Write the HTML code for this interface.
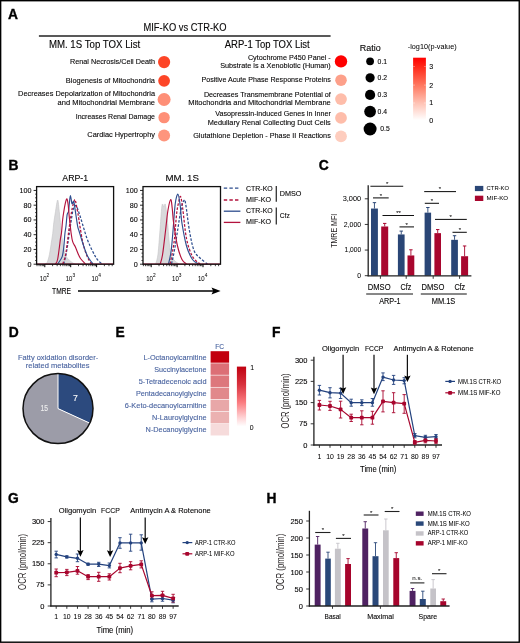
<!DOCTYPE html>
<html><head><meta charset="utf-8"><style>
html,body{margin:0;padding:0;background:#fff;}
body{width:520px;height:643px;overflow:hidden;}
svg{display:block;font-family:"Liberation Sans", sans-serif;will-change:transform;}
</style></head><body>
<svg width="520" height="643" viewBox="0 0 520 643">
<defs>
<linearGradient id="gA" x1="0" y1="0" x2="0" y2="1"><stop offset="0" stop-color="#ff0000"/><stop offset="0.15" stop-color="#ff2a1a"/><stop offset="0.45" stop-color="#ff7a62"/><stop offset="0.73" stop-color="#ffc3b5"/><stop offset="1" stop-color="#ffffff"/></linearGradient>
<linearGradient id="gE" x1="0" y1="0" x2="0" y2="1"><stop offset="0" stop-color="#c00010"/><stop offset="0.3" stop-color="#d8323e"/><stop offset="0.6" stop-color="#fb7c80"/><stop offset="0.85" stop-color="#ffd2d4"/><stop offset="1" stop-color="#ffffff"/></linearGradient>
</defs>
<rect x="0" y="0" width="520" height="643" fill="#fff"/>
<rect x="0.65" y="0.7" width="518.6" height="641.5" fill="none" stroke="#000" stroke-width="1.4"/>
<text x="8.00" y="18.80" font-size="13.8" fill="#000" font-weight="bold" stroke="#000" stroke-width="0.35">A</text>
<text x="143.50" y="31.10" font-size="10.0" stroke="#231f20" stroke-width="0.12" textLength="83.00" lengthAdjust="spacingAndGlyphs" >MIF-KO vs CTR-KO</text>
<line x1="38.90" y1="36.00" x2="330.60" y2="36.00" stroke="#222" stroke-width="1.5" />
<text x="48.90" y="47.80" font-size="10.2" stroke="#231f20" stroke-width="0.12" textLength="91.30" lengthAdjust="spacingAndGlyphs" >MM. 1S Top TOX List</text>
<text x="224.70" y="47.80" font-size="10.2" stroke="#231f20" stroke-width="0.12" textLength="85.00" lengthAdjust="spacingAndGlyphs" >ARP-1 Top TOX List</text>
<text x="70.00" y="64.40" font-size="7.7" stroke="#231f20" stroke-width="0.12" textLength="85.00" lengthAdjust="spacingAndGlyphs" >Renal Necrosis/Cell Death</text>
<text x="65.80" y="82.80" font-size="7.7" stroke="#231f20" stroke-width="0.12" textLength="89.20" lengthAdjust="spacingAndGlyphs" >Biogenesis of Mitochondria</text>
<text x="18.10" y="96.40" font-size="7.7" stroke="#231f20" stroke-width="0.12" textLength="136.90" lengthAdjust="spacingAndGlyphs" >Decreases Depolarization of Mitochondria</text>
<text x="57.60" y="104.80" font-size="7.7" stroke="#231f20" stroke-width="0.12" textLength="97.40" lengthAdjust="spacingAndGlyphs" >and Mitochondrial Membrane</text>
<text x="75.70" y="119.30" font-size="7.7" stroke="#231f20" stroke-width="0.12" textLength="79.30" lengthAdjust="spacingAndGlyphs" >Increases Renal Damage</text>
<text x="87.30" y="136.60" font-size="7.7" stroke="#231f20" stroke-width="0.12" textLength="67.70" lengthAdjust="spacingAndGlyphs" >Cardiac Hypertrophy</text>
<circle cx="164.10" cy="62.10" r="6.10" fill="#fd4527" />
<circle cx="164.10" cy="80.80" r="5.90" fill="#fd4527" />
<circle cx="164.10" cy="99.50" r="6.50" fill="#fe8f77" />
<circle cx="164.10" cy="117.60" r="5.70" fill="#fe8f77" />
<circle cx="164.10" cy="135.60" r="6.00" fill="#fe957d" />
<text x="247.90" y="59.90" font-size="7.7" stroke="#231f20" stroke-width="0.12" textLength="82.90" lengthAdjust="spacingAndGlyphs" >Cytochrome P450 Panel -</text>
<text x="220.20" y="68.10" font-size="7.7" stroke="#231f20" stroke-width="0.12" textLength="110.60" lengthAdjust="spacingAndGlyphs" >Substrate is a Xenobiotic (Human)</text>
<text x="201.40" y="82.40" font-size="7.7" stroke="#231f20" stroke-width="0.12" textLength="129.40" lengthAdjust="spacingAndGlyphs" >Positive Acute Phase Response Proteins</text>
<text x="203.90" y="96.80" font-size="7.7" stroke="#231f20" stroke-width="0.12" textLength="126.90" lengthAdjust="spacingAndGlyphs" >Decreases Transmembrane Potential of</text>
<text x="188.20" y="105.30" font-size="7.7" stroke="#231f20" stroke-width="0.12" textLength="142.60" lengthAdjust="spacingAndGlyphs" >Mitochondria and Mitochondrial Membrane</text>
<text x="215.30" y="116.10" font-size="7.7" stroke="#231f20" stroke-width="0.12" textLength="115.50" lengthAdjust="spacingAndGlyphs" >Vasopressin-induced Genes in Inner</text>
<text x="207.70" y="125.10" font-size="7.7" stroke="#231f20" stroke-width="0.12" textLength="123.10" lengthAdjust="spacingAndGlyphs" >Medullary Renal Collecting Duct Cells</text>
<text x="193.20" y="137.90" font-size="7.7" stroke="#231f20" stroke-width="0.12" textLength="137.60" lengthAdjust="spacingAndGlyphs" >Glutathione Depletion - Phase II Reactions</text>
<circle cx="341.00" cy="61.40" r="6.20" fill="#fe0000" />
<circle cx="341.00" cy="80.20" r="5.80" fill="#fda08a" />
<circle cx="341.00" cy="99.10" r="5.90" fill="#febdaa" />
<circle cx="341.00" cy="117.90" r="5.90" fill="#febdaa" />
<circle cx="341.00" cy="136.30" r="5.90" fill="#fecdbe" />
<text x="359.70" y="51.30" font-size="9.0" stroke="#231f20" stroke-width="0.12" textLength="21.00" lengthAdjust="spacingAndGlyphs" >Ratio</text>
<circle cx="370.10" cy="61.30" r="3.90" fill="#000" />
<text x="377.60" y="63.70" font-size="7.0" stroke="#231f20" stroke-width="0.12" textLength="9.50" lengthAdjust="spacingAndGlyphs" >0.1</text>
<circle cx="370.10" cy="77.80" r="4.60" fill="#000" />
<text x="377.60" y="80.20" font-size="7.0" stroke="#231f20" stroke-width="0.12" textLength="9.50" lengthAdjust="spacingAndGlyphs" >0.2</text>
<circle cx="370.10" cy="94.90" r="5.10" fill="#000" />
<text x="377.60" y="97.30" font-size="7.0" stroke="#231f20" stroke-width="0.12" textLength="9.50" lengthAdjust="spacingAndGlyphs" >0.3</text>
<circle cx="370.10" cy="111.60" r="5.90" fill="#000" />
<text x="377.60" y="114.00" font-size="7.0" stroke="#231f20" stroke-width="0.12" textLength="9.50" lengthAdjust="spacingAndGlyphs" >0.4</text>
<circle cx="370.10" cy="129.00" r="6.50" fill="#000" />
<text x="380.20" y="131.40" font-size="7.0" stroke="#231f20" stroke-width="0.12" textLength="9.50" lengthAdjust="spacingAndGlyphs" >0.5</text>
<text x="407.80" y="49.30" font-size="6.9" stroke="#231f20" stroke-width="0.04" textLength="48.80" lengthAdjust="spacingAndGlyphs" >-log10(p-value)</text>
<rect x="413.10" y="57.70" width="12.80" height="62.50" fill="url(#gA)" />
<text x="429.30" y="68.80" font-size="7.0" stroke="#231f20" stroke-width="0.12" >3</text>
<line x1="413.10" y1="66.40" x2="415.00" y2="66.40" stroke="#fff" stroke-width="0.6" opacity="0.6"/>
<line x1="424.00" y1="66.40" x2="425.90" y2="66.40" stroke="#fff" stroke-width="0.6" opacity="0.6"/>
<text x="429.30" y="87.50" font-size="7.0" stroke="#231f20" stroke-width="0.12" >2</text>
<line x1="413.10" y1="85.10" x2="415.00" y2="85.10" stroke="#fff" stroke-width="0.6" opacity="0.6"/>
<line x1="424.00" y1="85.10" x2="425.90" y2="85.10" stroke="#fff" stroke-width="0.6" opacity="0.6"/>
<text x="429.30" y="105.40" font-size="7.0" stroke="#231f20" stroke-width="0.12" >1</text>
<line x1="413.10" y1="103.00" x2="415.00" y2="103.00" stroke="#fff" stroke-width="0.6" opacity="0.6"/>
<line x1="424.00" y1="103.00" x2="425.90" y2="103.00" stroke="#fff" stroke-width="0.6" opacity="0.6"/>
<text x="429.30" y="123.30" font-size="7.0" stroke="#231f20" stroke-width="0.12" >0</text>
<line x1="413.10" y1="120.90" x2="415.00" y2="120.90" stroke="#fff" stroke-width="0.6" opacity="0.6"/>
<line x1="424.00" y1="120.90" x2="425.90" y2="120.90" stroke="#fff" stroke-width="0.6" opacity="0.6"/>
<text x="8.60" y="169.70" font-size="13.8" fill="#000" font-weight="bold" stroke="#000" stroke-width="0.35">B</text>
<text x="62.30" y="181.20" font-size="9.6" stroke="#231f20" stroke-width="0.12" textLength="25.90" lengthAdjust="spacingAndGlyphs" >ARP-1</text>
<text x="165.50" y="181.30" font-size="9.6" stroke="#231f20" stroke-width="0.12" textLength="33.40" lengthAdjust="spacingAndGlyphs" >MM. 1S</text>
<path d="M45.0,264.0 C45.4,263.7 46.5,263.9 47.2,262.4 C47.9,260.8 48.8,257.6 49.4,254.7 C50.0,251.8 50.5,248.2 51.0,244.7 C51.5,241.2 52.2,237.4 52.7,233.7 C53.2,230.0 53.3,226.3 53.8,222.6 C54.3,218.9 54.9,215.4 55.5,211.6 C56.1,207.8 57.1,200.0 57.7,200.0 C58.3,200.0 58.8,207.8 59.3,211.6 C59.8,215.4 60.0,218.9 60.4,222.6 C60.8,226.3 60.9,229.5 61.5,233.7 C62.1,237.9 63.0,244.1 63.8,248.0 C64.6,251.9 65.1,254.5 66.5,256.9 C67.9,259.3 70.5,261.2 72.0,262.4 C73.5,263.6 74.8,263.7 75.4,264.0 Z" stroke="#c4c4c6" stroke-width="0.6" fill="#d9d9db" />
<path d="M63.7,264.0 C64.2,262.0 65.6,256.8 66.5,252.0 C67.4,247.2 68.0,242.2 69.0,235.5 C70.0,228.8 71.8,216.2 72.7,211.5 C73.6,206.8 73.9,208.0 74.5,207.0 C75.1,206.0 75.6,205.0 76.2,205.5 C76.8,206.0 77.2,207.8 78.0,210.0 C78.8,212.2 79.5,214.2 81.0,219.0 C82.5,223.8 85.0,233.0 87.0,238.5 C89.0,244.0 91.3,248.6 93.0,252.0 C94.7,255.4 95.5,257.0 97.0,259.0 C98.5,261.0 101.2,263.2 102.0,264.0" stroke="#2d4d8e" stroke-width="1.25" fill="none" stroke-dasharray="2.6,1.6" stroke-linejoin="round"/>
<path d="M62.7,264.0 C63.2,262.6 64.7,259.0 65.4,255.8 C66.1,252.6 66.5,248.8 67.1,244.7 C67.6,240.6 68.2,235.7 68.7,231.5 C69.2,227.3 69.9,223.0 70.4,219.3 C71.0,215.6 71.3,212.5 72.0,209.4 C72.7,206.3 73.7,201.8 74.3,200.5 C74.9,199.2 75.0,199.2 75.6,201.5 C76.2,203.8 76.8,207.4 78.0,214.0 C79.2,220.6 81.0,234.0 82.5,241.0 C84.0,248.0 85.5,252.2 87.0,256.0 C88.5,259.8 90.8,262.7 91.5,264.0" stroke="#b3123d" stroke-width="1.25" fill="none" stroke-dasharray="2.6,1.6" stroke-linejoin="round"/>
<path d="M57.7,264.0 C58.4,262.8 61.1,259.7 62.1,256.9 C63.1,254.1 63.3,250.9 63.8,247.0 C64.3,243.1 64.5,237.2 64.9,233.7 C65.3,230.2 65.6,229.1 66.0,226.0 C66.4,222.9 66.7,217.3 67.1,214.9 C67.5,212.5 68.1,213.4 68.5,211.6 C68.9,209.8 69.0,206.5 69.3,203.8 C69.6,201.1 70.0,195.6 70.4,195.6 C70.9,195.6 71.5,202.8 72.0,203.8 C72.5,204.8 73.1,200.3 73.7,201.6 C74.3,202.9 74.8,207.5 75.4,211.6 C76.1,215.7 77.0,222.7 77.6,226.0 C78.2,229.3 78.3,228.5 79.2,231.5 C80.1,234.5 81.7,240.1 83.0,244.0 C84.3,247.9 85.8,252.3 87.0,255.0 C88.2,257.7 89.0,258.5 90.0,260.0 C91.0,261.5 92.5,263.3 93.0,264.0" stroke="#2d4d8e" stroke-width="1.15" fill="none" stroke-linejoin="round"/>
<path d="M55.5,264.0 C55.9,263.2 56.9,263.1 57.7,259.0 C58.5,254.9 59.8,243.6 60.4,239.2 C61.0,234.8 61.1,235.9 61.5,232.6 C61.9,229.3 62.3,222.8 62.7,219.3 C63.1,215.8 63.4,214.2 63.8,211.6 C64.2,209.0 64.7,205.9 65.2,203.8 C65.7,201.7 66.4,198.7 66.9,198.9 C67.4,199.1 67.8,202.0 68.2,205.0 C68.6,208.0 68.8,212.7 69.3,217.1 C69.8,221.5 70.4,227.4 70.9,231.5 C71.5,235.6 71.8,238.8 72.6,241.4 C73.3,244.0 74.6,245.2 75.4,247.0 C76.2,248.8 76.8,250.6 77.6,252.5 C78.4,254.4 79.2,256.6 80.5,258.5 C81.8,260.4 84.7,263.1 85.5,264.0" stroke="#b3123d" stroke-width="1.15" fill="none" stroke-linejoin="round"/>
<line x1="36.60" y1="264.00" x2="113.60" y2="264.00" stroke="#b3123d" stroke-width="1.2" />
<rect x="36.60" y="186.60" width="77.00" height="77.60" fill="none" stroke="#111" stroke-width="1.3"/>
<line x1="33.60" y1="264.20" x2="36.60" y2="264.20" stroke="#111" stroke-width="0.9" />
<text x="31.40" y="266.70" font-size="7.2" text-anchor="end" stroke="#231f20" stroke-width="0.12" >0</text>
<line x1="35.00" y1="260.51" x2="36.60" y2="260.51" stroke="#111" stroke-width="0.7" />
<line x1="35.00" y1="256.82" x2="36.60" y2="256.82" stroke="#111" stroke-width="0.7" />
<line x1="35.00" y1="253.14" x2="36.60" y2="253.14" stroke="#111" stroke-width="0.7" />
<line x1="33.60" y1="249.45" x2="36.60" y2="249.45" stroke="#111" stroke-width="0.9" />
<text x="31.40" y="251.95" font-size="7.2" text-anchor="end" stroke="#231f20" stroke-width="0.12" >20</text>
<line x1="35.00" y1="245.76" x2="36.60" y2="245.76" stroke="#111" stroke-width="0.7" />
<line x1="35.00" y1="242.07" x2="36.60" y2="242.07" stroke="#111" stroke-width="0.7" />
<line x1="35.00" y1="238.39" x2="36.60" y2="238.39" stroke="#111" stroke-width="0.7" />
<line x1="33.60" y1="234.70" x2="36.60" y2="234.70" stroke="#111" stroke-width="0.9" />
<text x="31.40" y="237.20" font-size="7.2" text-anchor="end" stroke="#231f20" stroke-width="0.12" >40</text>
<line x1="35.00" y1="231.01" x2="36.60" y2="231.01" stroke="#111" stroke-width="0.7" />
<line x1="35.00" y1="227.32" x2="36.60" y2="227.32" stroke="#111" stroke-width="0.7" />
<line x1="35.00" y1="223.64" x2="36.60" y2="223.64" stroke="#111" stroke-width="0.7" />
<line x1="33.60" y1="219.95" x2="36.60" y2="219.95" stroke="#111" stroke-width="0.9" />
<text x="31.40" y="222.45" font-size="7.2" text-anchor="end" stroke="#231f20" stroke-width="0.12" >60</text>
<line x1="35.00" y1="216.26" x2="36.60" y2="216.26" stroke="#111" stroke-width="0.7" />
<line x1="35.00" y1="212.57" x2="36.60" y2="212.57" stroke="#111" stroke-width="0.7" />
<line x1="35.00" y1="208.89" x2="36.60" y2="208.89" stroke="#111" stroke-width="0.7" />
<line x1="33.60" y1="205.20" x2="36.60" y2="205.20" stroke="#111" stroke-width="0.9" />
<text x="31.40" y="207.70" font-size="7.2" text-anchor="end" stroke="#231f20" stroke-width="0.12" >80</text>
<line x1="35.00" y1="201.51" x2="36.60" y2="201.51" stroke="#111" stroke-width="0.7" />
<line x1="35.00" y1="197.82" x2="36.60" y2="197.82" stroke="#111" stroke-width="0.7" />
<line x1="35.00" y1="194.14" x2="36.60" y2="194.14" stroke="#111" stroke-width="0.7" />
<line x1="33.60" y1="190.45" x2="36.60" y2="190.45" stroke="#111" stroke-width="0.9" />
<text x="31.40" y="192.95" font-size="7.2" text-anchor="end" stroke="#231f20" stroke-width="0.12" >100</text>
<line x1="37.00" y1="264.20" x2="37.00" y2="266.20" stroke="#111" stroke-width="0.8" />
<line x1="39.05" y1="264.20" x2="39.05" y2="266.20" stroke="#111" stroke-width="0.8" />
<line x1="40.79" y1="264.20" x2="40.79" y2="266.20" stroke="#111" stroke-width="0.8" />
<line x1="42.29" y1="264.20" x2="42.29" y2="266.20" stroke="#111" stroke-width="0.8" />
<line x1="43.61" y1="264.20" x2="43.61" y2="266.20" stroke="#111" stroke-width="0.8" />
<line x1="44.80" y1="264.20" x2="44.80" y2="267.20" stroke="#000" stroke-width="1.0" />
<line x1="52.60" y1="264.20" x2="52.60" y2="266.20" stroke="#111" stroke-width="0.8" />
<line x1="57.16" y1="264.20" x2="57.16" y2="266.20" stroke="#111" stroke-width="0.8" />
<line x1="60.39" y1="264.20" x2="60.39" y2="266.20" stroke="#111" stroke-width="0.8" />
<line x1="62.90" y1="264.20" x2="62.90" y2="266.20" stroke="#111" stroke-width="0.8" />
<line x1="64.95" y1="264.20" x2="64.95" y2="266.20" stroke="#111" stroke-width="0.8" />
<line x1="66.69" y1="264.20" x2="66.69" y2="266.20" stroke="#111" stroke-width="0.8" />
<line x1="68.19" y1="264.20" x2="68.19" y2="266.20" stroke="#111" stroke-width="0.8" />
<line x1="69.51" y1="264.20" x2="69.51" y2="266.20" stroke="#111" stroke-width="0.8" />
<line x1="70.70" y1="264.20" x2="70.70" y2="267.20" stroke="#000" stroke-width="1.0" />
<line x1="78.50" y1="264.20" x2="78.50" y2="266.20" stroke="#111" stroke-width="0.8" />
<line x1="83.06" y1="264.20" x2="83.06" y2="266.20" stroke="#111" stroke-width="0.8" />
<line x1="86.29" y1="264.20" x2="86.29" y2="266.20" stroke="#111" stroke-width="0.8" />
<line x1="88.80" y1="264.20" x2="88.80" y2="266.20" stroke="#111" stroke-width="0.8" />
<line x1="90.85" y1="264.20" x2="90.85" y2="266.20" stroke="#111" stroke-width="0.8" />
<line x1="92.59" y1="264.20" x2="92.59" y2="266.20" stroke="#111" stroke-width="0.8" />
<line x1="94.09" y1="264.20" x2="94.09" y2="266.20" stroke="#111" stroke-width="0.8" />
<line x1="95.41" y1="264.20" x2="95.41" y2="266.20" stroke="#111" stroke-width="0.8" />
<line x1="96.60" y1="264.20" x2="96.60" y2="267.20" stroke="#000" stroke-width="1.0" />
<line x1="104.40" y1="264.20" x2="104.40" y2="266.20" stroke="#111" stroke-width="0.8" />
<line x1="108.96" y1="264.20" x2="108.96" y2="266.20" stroke="#111" stroke-width="0.8" />
<line x1="112.19" y1="264.20" x2="112.19" y2="266.20" stroke="#111" stroke-width="0.8" />
<text x="39.80" y="280.50" font-size="6.9" stroke="#231f20" stroke-width="0.04" textLength="6.70" lengthAdjust="spacingAndGlyphs" >10</text>
<text x="46.50" y="276.80" font-size="4.8" stroke="#231f20" stroke-width="0.04" >2</text>
<text x="65.70" y="280.50" font-size="6.9" stroke="#231f20" stroke-width="0.04" textLength="6.70" lengthAdjust="spacingAndGlyphs" >10</text>
<text x="72.40" y="276.80" font-size="4.8" stroke="#231f20" stroke-width="0.04" >3</text>
<text x="91.60" y="280.50" font-size="6.9" stroke="#231f20" stroke-width="0.04" textLength="6.70" lengthAdjust="spacingAndGlyphs" >10</text>
<text x="98.30" y="276.80" font-size="4.8" stroke="#231f20" stroke-width="0.04" >4</text>
<path d="M155.7,264.0 C156.1,262.3 157.3,259.7 158.0,254.0 C158.7,248.3 159.4,237.3 160.0,230.0 C160.6,222.7 161.1,214.3 161.5,210.0 C161.9,205.7 162.1,204.5 162.5,204.0 C162.9,203.5 163.4,207.0 163.8,207.0 C164.2,207.0 164.8,203.2 165.2,204.0 C165.6,204.8 166.1,208.8 166.5,212.0 C166.9,215.2 167.3,218.8 167.7,223.5 C168.1,228.2 168.5,235.0 169.0,240.0 C169.5,245.0 169.9,250.2 170.7,253.5 C171.5,256.8 172.6,258.2 174.0,260.0 C175.4,261.8 178.2,263.3 179.0,264.0 Z" stroke="#c4c4c6" stroke-width="0.6" fill="#d9d9db" />
<path d="M171.5,264.0 C172.0,261.7 173.5,255.5 174.5,250.0 C175.5,244.5 176.4,237.9 177.5,231.0 C178.6,224.1 180.1,213.6 181.2,208.5 C182.3,203.4 183.4,200.9 184.2,200.2 C184.9,199.4 184.8,198.9 185.7,204.0 C186.6,209.1 188.1,223.2 189.5,231.0 C190.9,238.8 192.2,246.0 194.0,250.5 C195.8,255.0 197.8,255.8 200.0,258.0 C202.2,260.2 206.2,263.0 207.5,264.0" stroke="#2d4d8e" stroke-width="1.25" fill="none" stroke-dasharray="2.6,1.6" stroke-linejoin="round"/>
<path d="M170.0,264.0 C170.4,262.0 171.8,256.2 172.5,252.0 C173.2,247.8 173.8,245.0 174.5,238.5 C175.2,232.0 176.0,218.9 176.7,213.0 C177.4,207.1 177.9,205.8 178.5,203.0 C179.1,200.2 179.8,195.6 180.5,196.5 C181.2,197.4 181.7,201.5 182.7,208.5 C183.7,215.5 184.9,230.5 186.5,238.5 C188.1,246.5 190.2,252.2 192.5,256.5 C194.8,260.8 198.8,262.8 200.0,264.0" stroke="#b3123d" stroke-width="1.25" fill="none" stroke-dasharray="2.6,1.6" stroke-linejoin="round"/>
<path d="M168.5,264.0 C168.9,262.0 170.2,257.5 171.0,252.0 C171.8,246.5 172.3,239.0 173.0,231.0 C173.7,223.0 174.4,210.1 175.2,204.0 C176.0,197.9 177.2,193.9 178.0,194.2 C178.8,194.4 179.5,200.6 180.2,205.5 C180.9,210.4 180.9,216.8 182.0,223.5 C183.1,230.2 184.8,240.0 186.5,246.0 C188.2,252.0 190.5,256.5 192.5,259.5 C194.5,262.5 197.5,263.2 198.5,264.0" stroke="#2d4d8e" stroke-width="1.15" fill="none" stroke-linejoin="round"/>
<path d="M160.2,264.0 C160.6,262.5 161.6,260.5 162.5,255.0 C163.4,249.5 164.6,238.5 165.5,231.0 C166.4,223.5 167.1,215.2 168.0,210.0 C168.9,204.8 170.0,199.8 170.7,199.5 C171.4,199.2 171.7,204.0 172.2,208.0 C172.7,212.0 172.8,217.2 173.7,223.5 C174.6,229.8 176.1,240.0 177.5,246.0 C178.9,252.0 180.5,256.5 182.0,259.5 C183.5,262.5 185.8,263.2 186.5,264.0" stroke="#b3123d" stroke-width="1.15" fill="none" stroke-linejoin="round"/>
<line x1="143.00" y1="264.00" x2="220.50" y2="264.00" stroke="#b3123d" stroke-width="1.2" />
<rect x="143.00" y="186.60" width="77.50" height="77.60" fill="none" stroke="#111" stroke-width="1.3"/>
<line x1="140.00" y1="264.20" x2="143.00" y2="264.20" stroke="#111" stroke-width="0.9" />
<text x="137.80" y="266.70" font-size="7.2" text-anchor="end" stroke="#231f20" stroke-width="0.12" >0</text>
<line x1="141.40" y1="260.51" x2="143.00" y2="260.51" stroke="#111" stroke-width="0.7" />
<line x1="141.40" y1="256.82" x2="143.00" y2="256.82" stroke="#111" stroke-width="0.7" />
<line x1="141.40" y1="253.14" x2="143.00" y2="253.14" stroke="#111" stroke-width="0.7" />
<line x1="140.00" y1="249.45" x2="143.00" y2="249.45" stroke="#111" stroke-width="0.9" />
<text x="137.80" y="251.95" font-size="7.2" text-anchor="end" stroke="#231f20" stroke-width="0.12" >20</text>
<line x1="141.40" y1="245.76" x2="143.00" y2="245.76" stroke="#111" stroke-width="0.7" />
<line x1="141.40" y1="242.07" x2="143.00" y2="242.07" stroke="#111" stroke-width="0.7" />
<line x1="141.40" y1="238.39" x2="143.00" y2="238.39" stroke="#111" stroke-width="0.7" />
<line x1="140.00" y1="234.70" x2="143.00" y2="234.70" stroke="#111" stroke-width="0.9" />
<text x="137.80" y="237.20" font-size="7.2" text-anchor="end" stroke="#231f20" stroke-width="0.12" >40</text>
<line x1="141.40" y1="231.01" x2="143.00" y2="231.01" stroke="#111" stroke-width="0.7" />
<line x1="141.40" y1="227.32" x2="143.00" y2="227.32" stroke="#111" stroke-width="0.7" />
<line x1="141.40" y1="223.64" x2="143.00" y2="223.64" stroke="#111" stroke-width="0.7" />
<line x1="140.00" y1="219.95" x2="143.00" y2="219.95" stroke="#111" stroke-width="0.9" />
<text x="137.80" y="222.45" font-size="7.2" text-anchor="end" stroke="#231f20" stroke-width="0.12" >60</text>
<line x1="141.40" y1="216.26" x2="143.00" y2="216.26" stroke="#111" stroke-width="0.7" />
<line x1="141.40" y1="212.57" x2="143.00" y2="212.57" stroke="#111" stroke-width="0.7" />
<line x1="141.40" y1="208.89" x2="143.00" y2="208.89" stroke="#111" stroke-width="0.7" />
<line x1="140.00" y1="205.20" x2="143.00" y2="205.20" stroke="#111" stroke-width="0.9" />
<text x="137.80" y="207.70" font-size="7.2" text-anchor="end" stroke="#231f20" stroke-width="0.12" >80</text>
<line x1="141.40" y1="201.51" x2="143.00" y2="201.51" stroke="#111" stroke-width="0.7" />
<line x1="141.40" y1="197.82" x2="143.00" y2="197.82" stroke="#111" stroke-width="0.7" />
<line x1="141.40" y1="194.14" x2="143.00" y2="194.14" stroke="#111" stroke-width="0.7" />
<line x1="140.00" y1="190.45" x2="143.00" y2="190.45" stroke="#111" stroke-width="0.9" />
<text x="137.80" y="192.95" font-size="7.2" text-anchor="end" stroke="#231f20" stroke-width="0.12" >100</text>
<line x1="143.40" y1="264.20" x2="143.40" y2="266.20" stroke="#111" stroke-width="0.8" />
<line x1="145.45" y1="264.20" x2="145.45" y2="266.20" stroke="#111" stroke-width="0.8" />
<line x1="147.19" y1="264.20" x2="147.19" y2="266.20" stroke="#111" stroke-width="0.8" />
<line x1="148.69" y1="264.20" x2="148.69" y2="266.20" stroke="#111" stroke-width="0.8" />
<line x1="150.01" y1="264.20" x2="150.01" y2="266.20" stroke="#111" stroke-width="0.8" />
<line x1="151.20" y1="264.20" x2="151.20" y2="267.20" stroke="#000" stroke-width="1.0" />
<line x1="159.00" y1="264.20" x2="159.00" y2="266.20" stroke="#111" stroke-width="0.8" />
<line x1="163.56" y1="264.20" x2="163.56" y2="266.20" stroke="#111" stroke-width="0.8" />
<line x1="166.79" y1="264.20" x2="166.79" y2="266.20" stroke="#111" stroke-width="0.8" />
<line x1="169.30" y1="264.20" x2="169.30" y2="266.20" stroke="#111" stroke-width="0.8" />
<line x1="171.35" y1="264.20" x2="171.35" y2="266.20" stroke="#111" stroke-width="0.8" />
<line x1="173.09" y1="264.20" x2="173.09" y2="266.20" stroke="#111" stroke-width="0.8" />
<line x1="174.59" y1="264.20" x2="174.59" y2="266.20" stroke="#111" stroke-width="0.8" />
<line x1="175.91" y1="264.20" x2="175.91" y2="266.20" stroke="#111" stroke-width="0.8" />
<line x1="177.10" y1="264.20" x2="177.10" y2="267.20" stroke="#000" stroke-width="1.0" />
<line x1="184.90" y1="264.20" x2="184.90" y2="266.20" stroke="#111" stroke-width="0.8" />
<line x1="189.46" y1="264.20" x2="189.46" y2="266.20" stroke="#111" stroke-width="0.8" />
<line x1="192.69" y1="264.20" x2="192.69" y2="266.20" stroke="#111" stroke-width="0.8" />
<line x1="195.20" y1="264.20" x2="195.20" y2="266.20" stroke="#111" stroke-width="0.8" />
<line x1="197.25" y1="264.20" x2="197.25" y2="266.20" stroke="#111" stroke-width="0.8" />
<line x1="198.99" y1="264.20" x2="198.99" y2="266.20" stroke="#111" stroke-width="0.8" />
<line x1="200.49" y1="264.20" x2="200.49" y2="266.20" stroke="#111" stroke-width="0.8" />
<line x1="201.81" y1="264.20" x2="201.81" y2="266.20" stroke="#111" stroke-width="0.8" />
<line x1="203.00" y1="264.20" x2="203.00" y2="267.20" stroke="#000" stroke-width="1.0" />
<line x1="210.80" y1="264.20" x2="210.80" y2="266.20" stroke="#111" stroke-width="0.8" />
<line x1="215.36" y1="264.20" x2="215.36" y2="266.20" stroke="#111" stroke-width="0.8" />
<line x1="218.59" y1="264.20" x2="218.59" y2="266.20" stroke="#111" stroke-width="0.8" />
<text x="146.20" y="280.50" font-size="6.9" stroke="#231f20" stroke-width="0.04" textLength="6.70" lengthAdjust="spacingAndGlyphs" >10</text>
<text x="152.90" y="276.80" font-size="4.8" stroke="#231f20" stroke-width="0.04" >2</text>
<text x="172.10" y="280.50" font-size="6.9" stroke="#231f20" stroke-width="0.04" textLength="6.70" lengthAdjust="spacingAndGlyphs" >10</text>
<text x="178.80" y="276.80" font-size="4.8" stroke="#231f20" stroke-width="0.04" >3</text>
<text x="198.00" y="280.50" font-size="6.9" stroke="#231f20" stroke-width="0.04" textLength="6.70" lengthAdjust="spacingAndGlyphs" >10</text>
<text x="204.70" y="276.80" font-size="4.8" stroke="#231f20" stroke-width="0.04" >4</text>
<text x="52.10" y="294.30" font-size="9.6" stroke="#231f20" stroke-width="0.12" textLength="18.90" lengthAdjust="spacingAndGlyphs" >TMRE</text>
<line x1="78.00" y1="291.00" x2="214.00" y2="291.00" stroke="#000" stroke-width="1.3" />
<path d="M211.5,287.4 L220.6,291 L211.5,294.6 L213.2,291 Z" stroke="none" stroke-width="1" fill="#000" />
<line x1="223.80" y1="188.20" x2="240.40" y2="188.20" stroke="#2d4d8e" stroke-width="1.3" stroke-dasharray="3.4,2.2"/>
<line x1="223.80" y1="200.00" x2="240.40" y2="200.00" stroke="#b3123d" stroke-width="1.3" stroke-dasharray="3.4,2.2"/>
<line x1="223.80" y1="211.20" x2="240.40" y2="211.20" stroke="#2d4d8e" stroke-width="1.3" />
<line x1="223.80" y1="222.40" x2="240.40" y2="222.40" stroke="#b3123d" stroke-width="1.3" />
<text x="246.00" y="191.00" font-size="7.6" stroke="#231f20" stroke-width="0.12" textLength="26.70" lengthAdjust="spacingAndGlyphs" >CTR-KO</text>
<text x="246.00" y="201.80" font-size="7.6" stroke="#231f20" stroke-width="0.12" textLength="25.00" lengthAdjust="spacingAndGlyphs" >MIF-KO</text>
<text x="246.00" y="213.30" font-size="7.6" stroke="#231f20" stroke-width="0.12" textLength="26.70" lengthAdjust="spacingAndGlyphs" >CTR-KO</text>
<text x="246.00" y="224.10" font-size="7.6" stroke="#231f20" stroke-width="0.12" textLength="25.00" lengthAdjust="spacingAndGlyphs" >MIF-KO</text>
<line x1="276.30" y1="186.00" x2="276.30" y2="201.80" stroke="#333" stroke-width="1.3" />
<line x1="276.30" y1="207.60" x2="276.30" y2="224.50" stroke="#333" stroke-width="1.3" />
<text x="279.80" y="195.80" font-size="7.6" stroke="#231f20" stroke-width="0.12" textLength="21.70" lengthAdjust="spacingAndGlyphs" >DMSO</text>
<text x="279.80" y="218.30" font-size="7.6" stroke="#231f20" stroke-width="0.12" textLength="10.00" lengthAdjust="spacingAndGlyphs" >Cfz</text>
<text x="318.80" y="170.30" font-size="13.8" fill="#000" font-weight="bold" stroke="#000" stroke-width="0.35">C</text>
<rect x="371.00" y="208.55" width="6.90" height="67.15" fill="#2a4676" />
<line x1="374.45" y1="202.65" x2="374.45" y2="208.55" stroke="#2a4676" stroke-width="0.9" />
<line x1="372.75" y1="202.65" x2="376.15" y2="202.65" stroke="#2a4676" stroke-width="1.0" />
<rect x="381.20" y="226.49" width="7.00" height="49.21" fill="#a8062e" />
<line x1="384.70" y1="223.41" x2="384.70" y2="226.49" stroke="#a8062e" stroke-width="0.9" />
<line x1="383.00" y1="223.41" x2="386.40" y2="223.41" stroke="#a8062e" stroke-width="1.0" />
<rect x="397.90" y="234.44" width="6.70" height="41.26" fill="#2a4676" />
<line x1="401.25" y1="231.10" x2="401.25" y2="234.44" stroke="#2a4676" stroke-width="0.9" />
<line x1="399.55" y1="231.10" x2="402.95" y2="231.10" stroke="#2a4676" stroke-width="1.0" />
<rect x="407.50" y="255.45" width="6.80" height="20.25" fill="#a8062e" />
<line x1="410.90" y1="249.81" x2="410.90" y2="255.45" stroke="#a8062e" stroke-width="0.9" />
<line x1="409.20" y1="249.81" x2="412.60" y2="249.81" stroke="#a8062e" stroke-width="1.0" />
<rect x="424.60" y="212.65" width="6.50" height="63.05" fill="#2a4676" />
<line x1="427.85" y1="207.52" x2="427.85" y2="212.65" stroke="#2a4676" stroke-width="0.9" />
<line x1="426.15" y1="207.52" x2="429.55" y2="207.52" stroke="#2a4676" stroke-width="1.0" />
<rect x="434.40" y="233.15" width="6.60" height="42.55" fill="#a8062e" />
<line x1="437.70" y1="229.57" x2="437.70" y2="233.15" stroke="#a8062e" stroke-width="0.9" />
<line x1="436.00" y1="229.57" x2="439.40" y2="229.57" stroke="#a8062e" stroke-width="1.0" />
<rect x="451.20" y="239.82" width="6.70" height="35.88" fill="#2a4676" />
<line x1="454.55" y1="235.72" x2="454.55" y2="239.82" stroke="#2a4676" stroke-width="0.9" />
<line x1="452.85" y1="235.72" x2="456.25" y2="235.72" stroke="#2a4676" stroke-width="1.0" />
<rect x="461.10" y="256.22" width="7.00" height="19.48" fill="#a8062e" />
<line x1="464.60" y1="245.97" x2="464.60" y2="256.22" stroke="#a8062e" stroke-width="0.9" />
<line x1="462.90" y1="245.97" x2="466.30" y2="245.97" stroke="#a8062e" stroke-width="1.0" />
<line x1="368.20" y1="185.30" x2="368.20" y2="276.30" stroke="#222" stroke-width="1.3" />
<line x1="367.60" y1="275.80" x2="471.40" y2="275.80" stroke="#222" stroke-width="1.3" />
<line x1="364.80" y1="275.70" x2="368.20" y2="275.70" stroke="#222" stroke-width="0.9" />
<text x="361.20" y="278.10" font-size="6.9" text-anchor="end" stroke="#231f20" stroke-width="0.04" >0</text>
<line x1="364.80" y1="250.07" x2="368.20" y2="250.07" stroke="#222" stroke-width="0.9" />
<text x="361.20" y="252.47" font-size="6.9" text-anchor="end" stroke="#231f20" stroke-width="0.04" textLength="16.70" lengthAdjust="spacingAndGlyphs" >1,000</text>
<line x1="364.80" y1="224.44" x2="368.20" y2="224.44" stroke="#222" stroke-width="0.9" />
<text x="361.20" y="226.84" font-size="6.9" text-anchor="end" stroke="#231f20" stroke-width="0.04" textLength="17.50" lengthAdjust="spacingAndGlyphs" >2,000</text>
<line x1="364.80" y1="198.81" x2="368.20" y2="198.81" stroke="#222" stroke-width="0.9" />
<text x="361.20" y="201.21" font-size="6.9" text-anchor="end" stroke="#231f20" stroke-width="0.04" textLength="18.50" lengthAdjust="spacingAndGlyphs" >3,000</text>
<line x1="380.40" y1="275.80" x2="380.40" y2="278.80" stroke="#222" stroke-width="0.9" />
<line x1="406.20" y1="275.80" x2="406.20" y2="278.80" stroke="#222" stroke-width="0.9" />
<line x1="433.20" y1="275.80" x2="433.20" y2="278.80" stroke="#222" stroke-width="0.9" />
<line x1="459.60" y1="275.80" x2="459.60" y2="278.80" stroke="#222" stroke-width="0.9" />
<text transform="translate(337.2,230.8) rotate(-90)" text-anchor="middle" font-size="8.8" textLength="34" lengthAdjust="spacingAndGlyphs" fill="#231f20">TMRE MFI</text>
<line x1="370.40" y1="186.20" x2="403.20" y2="186.20" stroke="#111" stroke-width="1.05" />
<text x="387.10" y="185.90" font-size="6.0" text-anchor="middle" stroke="#231f20" stroke-width="0.04" >*</text>
<line x1="373.00" y1="197.90" x2="388.70" y2="197.90" stroke="#111" stroke-width="1.05" />
<text x="381.00" y="197.60" font-size="6.0" text-anchor="middle" stroke="#231f20" stroke-width="0.04" >*</text>
<line x1="382.50" y1="215.50" x2="414.00" y2="215.50" stroke="#111" stroke-width="1.05" />
<text x="398.50" y="215.20" font-size="6.0" text-anchor="middle" stroke="#231f20" stroke-width="0.04" >**</text>
<line x1="399.50" y1="226.90" x2="414.00" y2="226.90" stroke="#111" stroke-width="1.05" />
<text x="406.70" y="226.60" font-size="6.0" text-anchor="middle" stroke="#231f20" stroke-width="0.04" >*</text>
<line x1="424.20" y1="191.60" x2="456.00" y2="191.60" stroke="#111" stroke-width="1.05" />
<text x="440.00" y="191.30" font-size="6.0" text-anchor="middle" stroke="#231f20" stroke-width="0.04" >*</text>
<line x1="424.80" y1="203.30" x2="439.00" y2="203.30" stroke="#111" stroke-width="1.05" />
<text x="431.80" y="203.00" font-size="6.0" text-anchor="middle" stroke="#231f20" stroke-width="0.04" >*</text>
<line x1="435.00" y1="219.40" x2="466.80" y2="219.40" stroke="#111" stroke-width="1.05" />
<text x="450.60" y="219.10" font-size="6.0" text-anchor="middle" stroke="#231f20" stroke-width="0.04" >*</text>
<line x1="452.50" y1="232.30" x2="466.80" y2="232.30" stroke="#111" stroke-width="1.05" />
<text x="459.80" y="232.00" font-size="6.0" text-anchor="middle" stroke="#231f20" stroke-width="0.04" >*</text>
<text x="367.80" y="289.80" font-size="8.2" stroke="#231f20" stroke-width="0.12" textLength="22.80" lengthAdjust="spacingAndGlyphs" >DMSO</text>
<text x="400.50" y="289.80" font-size="8.2" stroke="#231f20" stroke-width="0.12" textLength="10.80" lengthAdjust="spacingAndGlyphs" >Cfz</text>
<text x="421.50" y="289.80" font-size="8.2" stroke="#231f20" stroke-width="0.12" textLength="22.80" lengthAdjust="spacingAndGlyphs" >DMSO</text>
<text x="454.40" y="289.80" font-size="8.2" stroke="#231f20" stroke-width="0.12" textLength="10.80" lengthAdjust="spacingAndGlyphs" >Cfz</text>
<line x1="366.20" y1="294.00" x2="413.00" y2="294.00" stroke="#111" stroke-width="1.0" />
<line x1="420.80" y1="294.00" x2="466.80" y2="294.00" stroke="#111" stroke-width="1.0" />
<text x="379.30" y="304.10" font-size="8.2" stroke="#231f20" stroke-width="0.12" textLength="21.30" lengthAdjust="spacingAndGlyphs" >ARP-1</text>
<text x="431.70" y="304.10" font-size="8.2" stroke="#231f20" stroke-width="0.12" textLength="23.60" lengthAdjust="spacingAndGlyphs" >MM.1S</text>
<rect x="474.90" y="185.90" width="8.40" height="5.20" fill="#2a4676" />
<rect x="474.90" y="195.70" width="8.40" height="5.30" fill="#a8062e" />
<text x="486.60" y="190.40" font-size="5.6" stroke="#231f20" stroke-width="0.04" textLength="22.40" lengthAdjust="spacingAndGlyphs" >CTR-KO</text>
<text x="486.60" y="200.30" font-size="5.6" stroke="#231f20" stroke-width="0.04" textLength="21.50" lengthAdjust="spacingAndGlyphs" >MIF-KO</text>
<text x="8.70" y="336.60" font-size="13.8" fill="#000" font-weight="bold" stroke="#000" stroke-width="0.35">D</text>
<text x="18.00" y="359.80" font-size="7.9" fill="#4a64a0" stroke="#4a64a0" stroke-width="0.12" textLength="80.20" lengthAdjust="spacingAndGlyphs" >Fatty oxidation disorder-</text>
<text x="25.80" y="368.10" font-size="7.9" fill="#4a64a0" stroke="#4a64a0" stroke-width="0.12" textLength="63.70" lengthAdjust="spacingAndGlyphs" >related metabolites</text>
<path d="M58.0,408.6 L58.0,373.6 A35.0,35.0 0 0 1 89.84,423.14 Z" stroke="none" stroke-width="1" fill="#2c4a7e" />
<path d="M58.0,408.6 L89.84,423.14 A35.0,35.0 0 1 1 58.0,373.6 Z" stroke="none" stroke-width="1" fill="#9c9ca8" />
<line x1="58.00" y1="408.60" x2="58.00" y2="373.60" stroke="#fff" stroke-width="1.0" />
<line x1="58.00" y1="408.60" x2="89.84" y2="423.14" stroke="#fff" stroke-width="1.0" />
<circle cx="58.00" cy="408.60" r="35.00" fill="none" stroke="#111" stroke-width="1.5"/>
<text x="75.40" y="400.80" font-size="8.6" text-anchor="middle" fill="#fff" stroke="#fff" stroke-width="0.12" >7</text>
<text x="40.40" y="411.20" font-size="8.6" fill="#eeeeee" stroke="#eeeeee" stroke-width="0.12" textLength="7.50" lengthAdjust="spacingAndGlyphs" >15</text>
<text x="115.60" y="337.30" font-size="13.8" fill="#000" font-weight="bold" stroke="#000" stroke-width="0.35">E</text>
<text x="215.20" y="349.40" font-size="7.2" fill="#4a64a0" stroke="#4a64a0" stroke-width="0.12" textLength="8.90" lengthAdjust="spacingAndGlyphs" >FC</text>
<rect x="210.60" y="351.20" width="18.50" height="11.50" fill="#c2000e" />
<text x="143.40" y="359.50" font-size="7.8" fill="#4a64a0" stroke="#4a64a0" stroke-width="0.12" textLength="63.20" lengthAdjust="spacingAndGlyphs" >L-Octanoylcarnitine</text>
<rect x="210.60" y="363.33" width="18.50" height="11.50" fill="#dc6f76" />
<text x="154.30" y="371.60" font-size="7.8" fill="#4a64a0" stroke="#4a64a0" stroke-width="0.12" textLength="52.30" lengthAdjust="spacingAndGlyphs" >Succinylacetone</text>
<rect x="210.60" y="375.46" width="18.50" height="11.50" fill="#dd777c" />
<text x="138.70" y="383.70" font-size="7.8" fill="#4a64a0" stroke="#4a64a0" stroke-width="0.12" textLength="67.90" lengthAdjust="spacingAndGlyphs" >5-Tetradecenoic acid</text>
<rect x="210.60" y="387.59" width="18.50" height="11.50" fill="#e1888b" />
<text x="135.90" y="395.90" font-size="7.8" fill="#4a64a0" stroke="#4a64a0" stroke-width="0.12" textLength="70.70" lengthAdjust="spacingAndGlyphs" >Pentadecanoylglycine</text>
<rect x="210.60" y="399.72" width="18.50" height="11.50" fill="#e8a7a8" />
<text x="124.80" y="408.00" font-size="7.8" fill="#4a64a0" stroke="#4a64a0" stroke-width="0.12" textLength="81.80" lengthAdjust="spacingAndGlyphs" >6-Keto-decanoylcarnitine</text>
<rect x="210.60" y="411.85" width="18.50" height="11.50" fill="#ebb1b1" />
<text x="152.00" y="420.10" font-size="7.8" fill="#4a64a0" stroke="#4a64a0" stroke-width="0.12" textLength="54.60" lengthAdjust="spacingAndGlyphs" >N-Lauroylglycine</text>
<rect x="210.60" y="423.98" width="18.50" height="11.50" fill="#f6dbdb" />
<text x="145.60" y="432.20" font-size="7.8" fill="#4a64a0" stroke="#4a64a0" stroke-width="0.12" textLength="61.00" lengthAdjust="spacingAndGlyphs" >N-Decanoylglycine</text>
<rect x="236.90" y="366.60" width="9.20" height="59.80" fill="url(#gE)" />
<text x="250.20" y="369.60" font-size="6.9" stroke="#231f20" stroke-width="0.04" >1</text>
<text x="249.80" y="430.20" font-size="6.9" stroke="#231f20" stroke-width="0.04" >0</text>
<text x="271.90" y="336.70" font-size="13.8" fill="#000" font-weight="bold" stroke="#000" stroke-width="0.35">F</text>
<line x1="313.90" y1="356.80" x2="313.90" y2="445.60" stroke="#222" stroke-width="1.3" />
<line x1="313.30" y1="445.00" x2="442.00" y2="445.00" stroke="#222" stroke-width="1.3" />
<line x1="310.70" y1="445.00" x2="313.90" y2="445.00" stroke="#222" stroke-width="0.9" />
<text x="307.40" y="447.60" font-size="7.5" text-anchor="end" stroke="#231f20" stroke-width="0.12" >0</text>
<line x1="310.70" y1="423.80" x2="313.90" y2="423.80" stroke="#222" stroke-width="0.9" />
<text x="307.40" y="426.40" font-size="7.5" text-anchor="end" stroke="#231f20" stroke-width="0.12" >75</text>
<line x1="310.70" y1="402.60" x2="313.90" y2="402.60" stroke="#222" stroke-width="0.9" />
<text x="307.40" y="405.20" font-size="7.5" text-anchor="end" stroke="#231f20" stroke-width="0.12" >150</text>
<line x1="310.70" y1="381.39" x2="313.90" y2="381.39" stroke="#222" stroke-width="0.9" />
<text x="307.40" y="383.99" font-size="7.5" text-anchor="end" stroke="#231f20" stroke-width="0.12" >225</text>
<line x1="310.70" y1="360.19" x2="313.90" y2="360.19" stroke="#222" stroke-width="0.9" />
<text x="307.40" y="362.79" font-size="7.5" text-anchor="end" stroke="#231f20" stroke-width="0.12" >300</text>
<line x1="319.40" y1="445.00" x2="319.40" y2="447.80" stroke="#222" stroke-width="0.9" />
<text x="319.40" y="458.60" font-size="6.9" text-anchor="middle" stroke="#231f20" stroke-width="0.04" >1</text>
<line x1="330.00" y1="445.00" x2="330.00" y2="447.80" stroke="#222" stroke-width="0.9" />
<text x="330.00" y="458.60" font-size="6.9" text-anchor="middle" stroke="#231f20" stroke-width="0.04" >10</text>
<line x1="340.60" y1="445.00" x2="340.60" y2="447.80" stroke="#222" stroke-width="0.9" />
<text x="340.60" y="458.60" font-size="6.9" text-anchor="middle" stroke="#231f20" stroke-width="0.04" >19</text>
<line x1="351.20" y1="445.00" x2="351.20" y2="447.80" stroke="#222" stroke-width="0.9" />
<text x="351.20" y="458.60" font-size="6.9" text-anchor="middle" stroke="#231f20" stroke-width="0.04" >28</text>
<line x1="361.80" y1="445.00" x2="361.80" y2="447.80" stroke="#222" stroke-width="0.9" />
<text x="361.80" y="458.60" font-size="6.9" text-anchor="middle" stroke="#231f20" stroke-width="0.04" >36</text>
<line x1="372.40" y1="445.00" x2="372.40" y2="447.80" stroke="#222" stroke-width="0.9" />
<text x="372.40" y="458.60" font-size="6.9" text-anchor="middle" stroke="#231f20" stroke-width="0.04" >45</text>
<line x1="383.00" y1="445.00" x2="383.00" y2="447.80" stroke="#222" stroke-width="0.9" />
<text x="383.00" y="458.60" font-size="6.9" text-anchor="middle" stroke="#231f20" stroke-width="0.04" >54</text>
<line x1="393.60" y1="445.00" x2="393.60" y2="447.80" stroke="#222" stroke-width="0.9" />
<text x="393.60" y="458.60" font-size="6.9" text-anchor="middle" stroke="#231f20" stroke-width="0.04" >62</text>
<line x1="404.20" y1="445.00" x2="404.20" y2="447.80" stroke="#222" stroke-width="0.9" />
<text x="404.20" y="458.60" font-size="6.9" text-anchor="middle" stroke="#231f20" stroke-width="0.04" >71</text>
<line x1="414.80" y1="445.00" x2="414.80" y2="447.80" stroke="#222" stroke-width="0.9" />
<text x="414.80" y="458.60" font-size="6.9" text-anchor="middle" stroke="#231f20" stroke-width="0.04" >80</text>
<line x1="425.40" y1="445.00" x2="425.40" y2="447.80" stroke="#222" stroke-width="0.9" />
<text x="425.40" y="458.60" font-size="6.9" text-anchor="middle" stroke="#231f20" stroke-width="0.04" >89</text>
<line x1="436.00" y1="445.00" x2="436.00" y2="447.80" stroke="#222" stroke-width="0.9" />
<text x="436.00" y="458.60" font-size="6.9" text-anchor="middle" stroke="#231f20" stroke-width="0.04" >97</text>
<line x1="319.40" y1="385.40" x2="319.40" y2="395.00" stroke="#23427e" stroke-width="0.9" />
<line x1="317.70" y1="385.40" x2="321.10" y2="385.40" stroke="#23427e" stroke-width="0.9" />
<line x1="317.70" y1="395.00" x2="321.10" y2="395.00" stroke="#23427e" stroke-width="0.9" />
<line x1="330.00" y1="387.70" x2="330.00" y2="397.90" stroke="#23427e" stroke-width="0.9" />
<line x1="328.30" y1="387.70" x2="331.70" y2="387.70" stroke="#23427e" stroke-width="0.9" />
<line x1="328.30" y1="397.90" x2="331.70" y2="397.90" stroke="#23427e" stroke-width="0.9" />
<line x1="340.60" y1="388.30" x2="340.60" y2="398.50" stroke="#23427e" stroke-width="0.9" />
<line x1="338.90" y1="388.30" x2="342.30" y2="388.30" stroke="#23427e" stroke-width="0.9" />
<line x1="338.90" y1="398.50" x2="342.30" y2="398.50" stroke="#23427e" stroke-width="0.9" />
<line x1="351.20" y1="399.20" x2="351.20" y2="406.20" stroke="#23427e" stroke-width="0.9" />
<line x1="349.50" y1="399.20" x2="352.90" y2="399.20" stroke="#23427e" stroke-width="0.9" />
<line x1="349.50" y1="406.20" x2="352.90" y2="406.20" stroke="#23427e" stroke-width="0.9" />
<line x1="361.80" y1="399.80" x2="361.80" y2="405.60" stroke="#23427e" stroke-width="0.9" />
<line x1="360.10" y1="399.80" x2="363.50" y2="399.80" stroke="#23427e" stroke-width="0.9" />
<line x1="360.10" y1="405.60" x2="363.50" y2="405.60" stroke="#23427e" stroke-width="0.9" />
<line x1="372.40" y1="398.50" x2="372.40" y2="406.20" stroke="#23427e" stroke-width="0.9" />
<line x1="370.70" y1="398.50" x2="374.10" y2="398.50" stroke="#23427e" stroke-width="0.9" />
<line x1="370.70" y1="406.20" x2="374.10" y2="406.20" stroke="#23427e" stroke-width="0.9" />
<line x1="383.00" y1="372.90" x2="383.00" y2="380.60" stroke="#23427e" stroke-width="0.9" />
<line x1="381.30" y1="372.90" x2="384.70" y2="372.90" stroke="#23427e" stroke-width="0.9" />
<line x1="381.30" y1="380.60" x2="384.70" y2="380.60" stroke="#23427e" stroke-width="0.9" />
<line x1="393.60" y1="375.40" x2="393.60" y2="384.40" stroke="#23427e" stroke-width="0.9" />
<line x1="391.90" y1="375.40" x2="395.30" y2="375.40" stroke="#23427e" stroke-width="0.9" />
<line x1="391.90" y1="384.40" x2="395.30" y2="384.40" stroke="#23427e" stroke-width="0.9" />
<line x1="404.20" y1="377.70" x2="404.20" y2="383.80" stroke="#23427e" stroke-width="0.9" />
<line x1="402.50" y1="377.70" x2="405.90" y2="377.70" stroke="#23427e" stroke-width="0.9" />
<line x1="402.50" y1="383.80" x2="405.90" y2="383.80" stroke="#23427e" stroke-width="0.9" />
<line x1="414.80" y1="433.50" x2="414.80" y2="437.80" stroke="#23427e" stroke-width="0.9" />
<line x1="413.10" y1="433.50" x2="416.50" y2="433.50" stroke="#23427e" stroke-width="0.9" />
<line x1="413.10" y1="437.80" x2="416.50" y2="437.80" stroke="#23427e" stroke-width="0.9" />
<line x1="425.40" y1="435.30" x2="425.40" y2="439.40" stroke="#23427e" stroke-width="0.9" />
<line x1="423.70" y1="435.30" x2="427.10" y2="435.30" stroke="#23427e" stroke-width="0.9" />
<line x1="423.70" y1="439.40" x2="427.10" y2="439.40" stroke="#23427e" stroke-width="0.9" />
<line x1="436.00" y1="434.50" x2="436.00" y2="438.90" stroke="#23427e" stroke-width="0.9" />
<line x1="434.30" y1="434.50" x2="437.70" y2="434.50" stroke="#23427e" stroke-width="0.9" />
<line x1="434.30" y1="438.90" x2="437.70" y2="438.90" stroke="#23427e" stroke-width="0.9" />
<line x1="319.40" y1="400.40" x2="319.40" y2="410.00" stroke="#a8062e" stroke-width="0.9" />
<line x1="317.70" y1="400.40" x2="321.10" y2="400.40" stroke="#a8062e" stroke-width="0.9" />
<line x1="317.70" y1="410.00" x2="321.10" y2="410.00" stroke="#a8062e" stroke-width="0.9" />
<line x1="330.00" y1="401.30" x2="330.00" y2="410.40" stroke="#a8062e" stroke-width="0.9" />
<line x1="328.30" y1="401.30" x2="331.70" y2="401.30" stroke="#a8062e" stroke-width="0.9" />
<line x1="328.30" y1="410.40" x2="331.70" y2="410.40" stroke="#a8062e" stroke-width="0.9" />
<line x1="340.60" y1="401.20" x2="340.60" y2="418.00" stroke="#a8062e" stroke-width="0.9" />
<line x1="338.90" y1="401.20" x2="342.30" y2="401.20" stroke="#a8062e" stroke-width="0.9" />
<line x1="338.90" y1="418.00" x2="342.30" y2="418.00" stroke="#a8062e" stroke-width="0.9" />
<line x1="351.20" y1="414.20" x2="351.20" y2="421.50" stroke="#a8062e" stroke-width="0.9" />
<line x1="349.50" y1="414.20" x2="352.90" y2="414.20" stroke="#a8062e" stroke-width="0.9" />
<line x1="349.50" y1="421.50" x2="352.90" y2="421.50" stroke="#a8062e" stroke-width="0.9" />
<line x1="361.80" y1="410.80" x2="361.80" y2="424.80" stroke="#a8062e" stroke-width="0.9" />
<line x1="360.10" y1="410.80" x2="363.50" y2="410.80" stroke="#a8062e" stroke-width="0.9" />
<line x1="360.10" y1="424.80" x2="363.50" y2="424.80" stroke="#a8062e" stroke-width="0.9" />
<line x1="372.40" y1="411.30" x2="372.40" y2="424.20" stroke="#a8062e" stroke-width="0.9" />
<line x1="370.70" y1="411.30" x2="374.10" y2="411.30" stroke="#a8062e" stroke-width="0.9" />
<line x1="370.70" y1="424.20" x2="374.10" y2="424.20" stroke="#a8062e" stroke-width="0.9" />
<line x1="383.00" y1="390.80" x2="383.00" y2="411.90" stroke="#a8062e" stroke-width="0.9" />
<line x1="381.30" y1="390.80" x2="384.70" y2="390.80" stroke="#a8062e" stroke-width="0.9" />
<line x1="381.30" y1="411.90" x2="384.70" y2="411.90" stroke="#a8062e" stroke-width="0.9" />
<line x1="393.60" y1="392.70" x2="393.60" y2="412.70" stroke="#a8062e" stroke-width="0.9" />
<line x1="391.90" y1="392.70" x2="395.30" y2="392.70" stroke="#a8062e" stroke-width="0.9" />
<line x1="391.90" y1="412.70" x2="395.30" y2="412.70" stroke="#a8062e" stroke-width="0.9" />
<line x1="404.20" y1="394.60" x2="404.20" y2="413.30" stroke="#a8062e" stroke-width="0.9" />
<line x1="402.50" y1="394.60" x2="405.90" y2="394.60" stroke="#a8062e" stroke-width="0.9" />
<line x1="402.50" y1="413.30" x2="405.90" y2="413.30" stroke="#a8062e" stroke-width="0.9" />
<line x1="414.80" y1="440.50" x2="414.80" y2="444.20" stroke="#a8062e" stroke-width="0.9" />
<line x1="413.10" y1="440.50" x2="416.50" y2="440.50" stroke="#a8062e" stroke-width="0.9" />
<line x1="413.10" y1="444.20" x2="416.50" y2="444.20" stroke="#a8062e" stroke-width="0.9" />
<line x1="425.40" y1="438.00" x2="425.40" y2="442.80" stroke="#a8062e" stroke-width="0.9" />
<line x1="423.70" y1="438.00" x2="427.10" y2="438.00" stroke="#a8062e" stroke-width="0.9" />
<line x1="423.70" y1="442.80" x2="427.10" y2="442.80" stroke="#a8062e" stroke-width="0.9" />
<line x1="436.00" y1="438.60" x2="436.00" y2="443.40" stroke="#a8062e" stroke-width="0.9" />
<line x1="434.30" y1="438.60" x2="437.70" y2="438.60" stroke="#a8062e" stroke-width="0.9" />
<line x1="434.30" y1="443.40" x2="437.70" y2="443.40" stroke="#a8062e" stroke-width="0.9" />
<path d="M319.4,390.2 L330.0,392.7 L340.6,393.1 L351.2,402.7 L361.8,402.7 L372.4,402.7 L383.0,377.1 L393.6,380.0 L404.2,380.6 L414.8,435.6 L425.4,437.3 L436.0,436.7" stroke="#23427e" stroke-width="1.2" fill="none" stroke-linejoin="round"/>
<path d="M319.4,405.0 L330.0,406.0 L340.6,409.4 L351.2,417.7 L361.8,417.7 L372.4,417.7 L383.0,401.3 L393.6,402.7 L404.2,403.7 L414.8,442.4 L425.4,440.4 L436.0,441.0" stroke="#a8062e" stroke-width="1.2" fill="none" stroke-linejoin="round"/>
<circle cx="319.40" cy="390.20" r="1.70" fill="#23427e" />
<circle cx="330.00" cy="392.70" r="1.70" fill="#23427e" />
<circle cx="340.60" cy="393.10" r="1.70" fill="#23427e" />
<circle cx="351.20" cy="402.70" r="1.70" fill="#23427e" />
<circle cx="361.80" cy="402.70" r="1.70" fill="#23427e" />
<circle cx="372.40" cy="402.70" r="1.70" fill="#23427e" />
<circle cx="383.00" cy="377.10" r="1.70" fill="#23427e" />
<circle cx="393.60" cy="380.00" r="1.70" fill="#23427e" />
<circle cx="404.20" cy="380.60" r="1.70" fill="#23427e" />
<circle cx="414.80" cy="435.60" r="1.70" fill="#23427e" />
<circle cx="425.40" cy="437.30" r="1.70" fill="#23427e" />
<circle cx="436.00" cy="436.70" r="1.70" fill="#23427e" />
<rect x="317.50" y="403.10" width="3.80" height="3.80" fill="#a8062e" rx="0.9"/>
<rect x="328.10" y="404.10" width="3.80" height="3.80" fill="#a8062e" rx="0.9"/>
<rect x="338.70" y="407.50" width="3.80" height="3.80" fill="#a8062e" rx="0.9"/>
<rect x="349.30" y="415.80" width="3.80" height="3.80" fill="#a8062e" rx="0.9"/>
<rect x="359.90" y="415.80" width="3.80" height="3.80" fill="#a8062e" rx="0.9"/>
<rect x="370.50" y="415.80" width="3.80" height="3.80" fill="#a8062e" rx="0.9"/>
<rect x="381.10" y="399.40" width="3.80" height="3.80" fill="#a8062e" rx="0.9"/>
<rect x="391.70" y="400.80" width="3.80" height="3.80" fill="#a8062e" rx="0.9"/>
<rect x="402.30" y="401.80" width="3.80" height="3.80" fill="#a8062e" rx="0.9"/>
<rect x="412.90" y="440.50" width="3.80" height="3.80" fill="#a8062e" rx="0.9"/>
<rect x="423.50" y="438.50" width="3.80" height="3.80" fill="#a8062e" rx="0.9"/>
<rect x="434.10" y="439.10" width="3.80" height="3.80" fill="#a8062e" rx="0.9"/>
<text x="321.90" y="350.60" font-size="7.6" stroke="#231f20" stroke-width="0.12" textLength="37.20" lengthAdjust="spacingAndGlyphs" >Oligomycin</text>
<text x="365.00" y="350.60" font-size="7.6" stroke="#231f20" stroke-width="0.12" textLength="18.30" lengthAdjust="spacingAndGlyphs" >FCCP</text>
<text x="393.50" y="350.80" font-size="7.6" stroke="#231f20" stroke-width="0.12" textLength="80.20" lengthAdjust="spacingAndGlyphs" >Antimycin A &amp; Rotenone</text>
<line x1="343.10" y1="354.80" x2="343.10" y2="389.90" stroke="#111" stroke-width="1.25" />
<path d="M339.90,387.30 L343.10,393.90 L346.30,387.30 L343.10,388.50 Z" stroke="none" stroke-width="1" fill="#000" />
<line x1="374.00" y1="354.80" x2="374.00" y2="390.20" stroke="#111" stroke-width="1.25" />
<path d="M370.80,387.60 L374.00,394.20 L377.20,387.60 L374.00,388.80 Z" stroke="none" stroke-width="1" fill="#000" />
<line x1="407.40" y1="354.80" x2="407.40" y2="378.10" stroke="#111" stroke-width="1.25" />
<path d="M404.20,375.50 L407.40,382.10 L410.60,375.50 L407.40,376.70 Z" stroke="none" stroke-width="1" fill="#000" />
<text x="360.00" y="472.00" font-size="9.8" stroke="#231f20" stroke-width="0.12" textLength="36.30" lengthAdjust="spacingAndGlyphs" >Time (min)</text>
<text transform="translate(289.0,401.0) rotate(-90)" text-anchor="middle" font-size="10.0" textLength="55" lengthAdjust="spacingAndGlyphs" fill="#231f20">OCR (pmol/min)</text>
<line x1="445.30" y1="381.40" x2="455.00" y2="381.40" stroke="#23427e" stroke-width="1.2" />
<circle cx="450.10" cy="381.40" r="1.70" fill="#23427e" />
<line x1="445.30" y1="392.80" x2="455.00" y2="392.80" stroke="#a8062e" stroke-width="1.2" />
<rect x="448.10" y="390.90" width="4.00" height="3.80" fill="#a8062e" rx="1"/>
<text x="458.10" y="384.00" font-size="6.4" stroke="#231f20" stroke-width="0.04" textLength="43.10" lengthAdjust="spacingAndGlyphs" >MM.1S CTR-KO</text>
<text x="458.10" y="395.10" font-size="6.4" stroke="#231f20" stroke-width="0.04" textLength="42.30" lengthAdjust="spacingAndGlyphs" >MM.1S MIF-KO</text>
<text x="8.00" y="502.90" font-size="13.8" fill="#000" font-weight="bold" stroke="#000" stroke-width="0.35">G</text>
<line x1="50.90" y1="518.00" x2="50.90" y2="606.60" stroke="#222" stroke-width="1.3" />
<line x1="50.30" y1="606.00" x2="178.70" y2="606.00" stroke="#222" stroke-width="1.3" />
<line x1="47.70" y1="606.00" x2="50.90" y2="606.00" stroke="#222" stroke-width="0.9" />
<text x="44.40" y="608.60" font-size="7.5" text-anchor="end" stroke="#231f20" stroke-width="0.12" >0</text>
<line x1="47.70" y1="584.89" x2="50.90" y2="584.89" stroke="#222" stroke-width="0.9" />
<text x="44.40" y="587.49" font-size="7.5" text-anchor="end" stroke="#231f20" stroke-width="0.12" >75</text>
<line x1="47.70" y1="563.77" x2="50.90" y2="563.77" stroke="#222" stroke-width="0.9" />
<text x="44.40" y="566.38" font-size="7.5" text-anchor="end" stroke="#231f20" stroke-width="0.12" >150</text>
<line x1="47.70" y1="542.66" x2="50.90" y2="542.66" stroke="#222" stroke-width="0.9" />
<text x="44.40" y="545.26" font-size="7.5" text-anchor="end" stroke="#231f20" stroke-width="0.12" >225</text>
<line x1="47.70" y1="521.55" x2="50.90" y2="521.55" stroke="#222" stroke-width="0.9" />
<text x="44.40" y="524.15" font-size="7.5" text-anchor="end" stroke="#231f20" stroke-width="0.12" >300</text>
<line x1="56.20" y1="606.00" x2="56.20" y2="608.80" stroke="#222" stroke-width="0.9" />
<text x="56.20" y="619.00" font-size="6.9" text-anchor="middle" stroke="#231f20" stroke-width="0.04" >1</text>
<line x1="66.83" y1="606.00" x2="66.83" y2="608.80" stroke="#222" stroke-width="0.9" />
<text x="66.83" y="619.00" font-size="6.9" text-anchor="middle" stroke="#231f20" stroke-width="0.04" >10</text>
<line x1="77.46" y1="606.00" x2="77.46" y2="608.80" stroke="#222" stroke-width="0.9" />
<text x="77.46" y="619.00" font-size="6.9" text-anchor="middle" stroke="#231f20" stroke-width="0.04" >19</text>
<line x1="88.09" y1="606.00" x2="88.09" y2="608.80" stroke="#222" stroke-width="0.9" />
<text x="88.09" y="619.00" font-size="6.9" text-anchor="middle" stroke="#231f20" stroke-width="0.04" >28</text>
<line x1="98.72" y1="606.00" x2="98.72" y2="608.80" stroke="#222" stroke-width="0.9" />
<text x="98.72" y="619.00" font-size="6.9" text-anchor="middle" stroke="#231f20" stroke-width="0.04" >36</text>
<line x1="109.35" y1="606.00" x2="109.35" y2="608.80" stroke="#222" stroke-width="0.9" />
<text x="109.35" y="619.00" font-size="6.9" text-anchor="middle" stroke="#231f20" stroke-width="0.04" >45</text>
<line x1="119.98" y1="606.00" x2="119.98" y2="608.80" stroke="#222" stroke-width="0.9" />
<text x="119.98" y="619.00" font-size="6.9" text-anchor="middle" stroke="#231f20" stroke-width="0.04" >54</text>
<line x1="130.61" y1="606.00" x2="130.61" y2="608.80" stroke="#222" stroke-width="0.9" />
<text x="130.61" y="619.00" font-size="6.9" text-anchor="middle" stroke="#231f20" stroke-width="0.04" >62</text>
<line x1="141.24" y1="606.00" x2="141.24" y2="608.80" stroke="#222" stroke-width="0.9" />
<text x="141.24" y="619.00" font-size="6.9" text-anchor="middle" stroke="#231f20" stroke-width="0.04" >71</text>
<line x1="151.87" y1="606.00" x2="151.87" y2="608.80" stroke="#222" stroke-width="0.9" />
<text x="151.87" y="619.00" font-size="6.9" text-anchor="middle" stroke="#231f20" stroke-width="0.04" >80</text>
<line x1="162.50" y1="606.00" x2="162.50" y2="608.80" stroke="#222" stroke-width="0.9" />
<text x="162.50" y="619.00" font-size="6.9" text-anchor="middle" stroke="#231f20" stroke-width="0.04" >89</text>
<line x1="173.13" y1="606.00" x2="173.13" y2="608.80" stroke="#222" stroke-width="0.9" />
<text x="173.13" y="619.00" font-size="6.9" text-anchor="middle" stroke="#231f20" stroke-width="0.04" >97</text>
<line x1="56.20" y1="551.20" x2="56.20" y2="557.90" stroke="#23427e" stroke-width="0.9" />
<line x1="54.50" y1="551.20" x2="57.90" y2="551.20" stroke="#23427e" stroke-width="0.9" />
<line x1="54.50" y1="557.90" x2="57.90" y2="557.90" stroke="#23427e" stroke-width="0.9" />
<line x1="66.83" y1="555.80" x2="66.83" y2="558.00" stroke="#23427e" stroke-width="0.9" />
<line x1="65.13" y1="555.80" x2="68.53" y2="555.80" stroke="#23427e" stroke-width="0.9" />
<line x1="65.13" y1="558.00" x2="68.53" y2="558.00" stroke="#23427e" stroke-width="0.9" />
<line x1="77.46" y1="554.00" x2="77.46" y2="561.70" stroke="#23427e" stroke-width="0.9" />
<line x1="75.76" y1="554.00" x2="79.16" y2="554.00" stroke="#23427e" stroke-width="0.9" />
<line x1="75.76" y1="561.70" x2="79.16" y2="561.70" stroke="#23427e" stroke-width="0.9" />
<line x1="88.09" y1="563.20" x2="88.09" y2="565.20" stroke="#23427e" stroke-width="0.9" />
<line x1="86.39" y1="563.20" x2="89.79" y2="563.20" stroke="#23427e" stroke-width="0.9" />
<line x1="86.39" y1="565.20" x2="89.79" y2="565.20" stroke="#23427e" stroke-width="0.9" />
<line x1="98.72" y1="562.30" x2="98.72" y2="566.50" stroke="#23427e" stroke-width="0.9" />
<line x1="97.02" y1="562.30" x2="100.42" y2="562.30" stroke="#23427e" stroke-width="0.9" />
<line x1="97.02" y1="566.50" x2="100.42" y2="566.50" stroke="#23427e" stroke-width="0.9" />
<line x1="109.35" y1="563.00" x2="109.35" y2="567.90" stroke="#23427e" stroke-width="0.9" />
<line x1="107.65" y1="563.00" x2="111.05" y2="563.00" stroke="#23427e" stroke-width="0.9" />
<line x1="107.65" y1="567.90" x2="111.05" y2="567.90" stroke="#23427e" stroke-width="0.9" />
<line x1="119.98" y1="537.70" x2="119.98" y2="548.30" stroke="#23427e" stroke-width="0.9" />
<line x1="118.28" y1="537.70" x2="121.68" y2="537.70" stroke="#23427e" stroke-width="0.9" />
<line x1="118.28" y1="548.30" x2="121.68" y2="548.30" stroke="#23427e" stroke-width="0.9" />
<line x1="130.61" y1="534.20" x2="130.61" y2="551.20" stroke="#23427e" stroke-width="0.9" />
<line x1="128.91" y1="534.20" x2="132.31" y2="534.20" stroke="#23427e" stroke-width="0.9" />
<line x1="128.91" y1="551.20" x2="132.31" y2="551.20" stroke="#23427e" stroke-width="0.9" />
<line x1="141.24" y1="534.80" x2="141.24" y2="550.20" stroke="#23427e" stroke-width="0.9" />
<line x1="139.54" y1="534.80" x2="142.94" y2="534.80" stroke="#23427e" stroke-width="0.9" />
<line x1="139.54" y1="550.20" x2="142.94" y2="550.20" stroke="#23427e" stroke-width="0.9" />
<line x1="151.87" y1="596.50" x2="151.87" y2="601.80" stroke="#23427e" stroke-width="0.9" />
<line x1="150.17" y1="596.50" x2="153.57" y2="596.50" stroke="#23427e" stroke-width="0.9" />
<line x1="150.17" y1="601.80" x2="153.57" y2="601.80" stroke="#23427e" stroke-width="0.9" />
<line x1="162.50" y1="595.80" x2="162.50" y2="601.20" stroke="#23427e" stroke-width="0.9" />
<line x1="160.80" y1="595.80" x2="164.20" y2="595.80" stroke="#23427e" stroke-width="0.9" />
<line x1="160.80" y1="601.20" x2="164.20" y2="601.20" stroke="#23427e" stroke-width="0.9" />
<line x1="173.13" y1="597.50" x2="173.13" y2="602.80" stroke="#23427e" stroke-width="0.9" />
<line x1="171.43" y1="597.50" x2="174.83" y2="597.50" stroke="#23427e" stroke-width="0.9" />
<line x1="171.43" y1="602.80" x2="174.83" y2="602.80" stroke="#23427e" stroke-width="0.9" />
<line x1="56.20" y1="569.00" x2="56.20" y2="576.70" stroke="#a8062e" stroke-width="0.9" />
<line x1="54.50" y1="569.00" x2="57.90" y2="569.00" stroke="#a8062e" stroke-width="0.9" />
<line x1="54.50" y1="576.70" x2="57.90" y2="576.70" stroke="#a8062e" stroke-width="0.9" />
<line x1="66.83" y1="569.40" x2="66.83" y2="575.60" stroke="#a8062e" stroke-width="0.9" />
<line x1="65.13" y1="569.40" x2="68.53" y2="569.40" stroke="#a8062e" stroke-width="0.9" />
<line x1="65.13" y1="575.60" x2="68.53" y2="575.60" stroke="#a8062e" stroke-width="0.9" />
<line x1="77.46" y1="566.50" x2="77.46" y2="574.20" stroke="#a8062e" stroke-width="0.9" />
<line x1="75.76" y1="566.50" x2="79.16" y2="566.50" stroke="#a8062e" stroke-width="0.9" />
<line x1="75.76" y1="574.20" x2="79.16" y2="574.20" stroke="#a8062e" stroke-width="0.9" />
<line x1="88.09" y1="574.60" x2="88.09" y2="579.60" stroke="#a8062e" stroke-width="0.9" />
<line x1="86.39" y1="574.60" x2="89.79" y2="574.60" stroke="#a8062e" stroke-width="0.9" />
<line x1="86.39" y1="579.60" x2="89.79" y2="579.60" stroke="#a8062e" stroke-width="0.9" />
<line x1="98.72" y1="572.30" x2="98.72" y2="581.30" stroke="#a8062e" stroke-width="0.9" />
<line x1="97.02" y1="572.30" x2="100.42" y2="572.30" stroke="#a8062e" stroke-width="0.9" />
<line x1="97.02" y1="581.30" x2="100.42" y2="581.30" stroke="#a8062e" stroke-width="0.9" />
<line x1="109.35" y1="573.80" x2="109.35" y2="580.00" stroke="#a8062e" stroke-width="0.9" />
<line x1="107.65" y1="573.80" x2="111.05" y2="573.80" stroke="#a8062e" stroke-width="0.9" />
<line x1="107.65" y1="580.00" x2="111.05" y2="580.00" stroke="#a8062e" stroke-width="0.9" />
<line x1="119.98" y1="563.30" x2="119.98" y2="572.70" stroke="#a8062e" stroke-width="0.9" />
<line x1="118.28" y1="563.30" x2="121.68" y2="563.30" stroke="#a8062e" stroke-width="0.9" />
<line x1="118.28" y1="572.70" x2="121.68" y2="572.70" stroke="#a8062e" stroke-width="0.9" />
<line x1="130.61" y1="561.70" x2="130.61" y2="569.80" stroke="#a8062e" stroke-width="0.9" />
<line x1="128.91" y1="561.70" x2="132.31" y2="561.70" stroke="#a8062e" stroke-width="0.9" />
<line x1="128.91" y1="569.80" x2="132.31" y2="569.80" stroke="#a8062e" stroke-width="0.9" />
<line x1="141.24" y1="560.80" x2="141.24" y2="567.90" stroke="#a8062e" stroke-width="0.9" />
<line x1="139.54" y1="560.80" x2="142.94" y2="560.80" stroke="#a8062e" stroke-width="0.9" />
<line x1="139.54" y1="567.90" x2="142.94" y2="567.90" stroke="#a8062e" stroke-width="0.9" />
<line x1="151.87" y1="591.80" x2="151.87" y2="598.50" stroke="#a8062e" stroke-width="0.9" />
<line x1="150.17" y1="591.80" x2="153.57" y2="591.80" stroke="#a8062e" stroke-width="0.9" />
<line x1="150.17" y1="598.50" x2="153.57" y2="598.50" stroke="#a8062e" stroke-width="0.9" />
<line x1="162.50" y1="591.30" x2="162.50" y2="599.00" stroke="#a8062e" stroke-width="0.9" />
<line x1="160.80" y1="591.30" x2="164.20" y2="591.30" stroke="#a8062e" stroke-width="0.9" />
<line x1="160.80" y1="599.00" x2="164.20" y2="599.00" stroke="#a8062e" stroke-width="0.9" />
<line x1="173.13" y1="594.30" x2="173.13" y2="602.00" stroke="#a8062e" stroke-width="0.9" />
<line x1="171.43" y1="594.30" x2="174.83" y2="594.30" stroke="#a8062e" stroke-width="0.9" />
<line x1="171.43" y1="602.00" x2="174.83" y2="602.00" stroke="#a8062e" stroke-width="0.9" />
<path d="M56.2,554.4 L66.8,556.9 L77.5,558.3 L88.1,564.2 L98.7,564.2 L109.4,565.6 L120.0,542.9 L130.6,542.9 L141.2,542.9 L151.9,599.2 L162.5,598.5 L173.1,600.2" stroke="#23427e" stroke-width="1.2" fill="none" stroke-linejoin="round"/>
<path d="M56.2,572.7 L66.8,572.3 L77.5,570.8 L88.1,576.7 L98.7,576.7 L109.4,576.7 L120.0,568.1 L130.6,565.8 L141.2,564.4 L151.9,595.7 L162.5,595.3 L173.1,598.3" stroke="#a8062e" stroke-width="1.2" fill="none" stroke-linejoin="round"/>
<circle cx="56.20" cy="554.40" r="1.70" fill="#23427e" />
<circle cx="66.83" cy="556.90" r="1.70" fill="#23427e" />
<circle cx="77.46" cy="558.30" r="1.70" fill="#23427e" />
<circle cx="88.09" cy="564.20" r="1.70" fill="#23427e" />
<circle cx="98.72" cy="564.20" r="1.70" fill="#23427e" />
<circle cx="109.35" cy="565.60" r="1.70" fill="#23427e" />
<circle cx="119.98" cy="542.90" r="1.70" fill="#23427e" />
<circle cx="130.61" cy="542.90" r="1.70" fill="#23427e" />
<circle cx="141.24" cy="542.90" r="1.70" fill="#23427e" />
<circle cx="151.87" cy="599.20" r="1.70" fill="#23427e" />
<circle cx="162.50" cy="598.50" r="1.70" fill="#23427e" />
<circle cx="173.13" cy="600.20" r="1.70" fill="#23427e" />
<rect x="54.30" y="570.80" width="3.80" height="3.80" fill="#a8062e" rx="0.9"/>
<rect x="64.93" y="570.40" width="3.80" height="3.80" fill="#a8062e" rx="0.9"/>
<rect x="75.56" y="568.90" width="3.80" height="3.80" fill="#a8062e" rx="0.9"/>
<rect x="86.19" y="574.80" width="3.80" height="3.80" fill="#a8062e" rx="0.9"/>
<rect x="96.82" y="574.80" width="3.80" height="3.80" fill="#a8062e" rx="0.9"/>
<rect x="107.45" y="574.80" width="3.80" height="3.80" fill="#a8062e" rx="0.9"/>
<rect x="118.08" y="566.20" width="3.80" height="3.80" fill="#a8062e" rx="0.9"/>
<rect x="128.71" y="563.90" width="3.80" height="3.80" fill="#a8062e" rx="0.9"/>
<rect x="139.34" y="562.50" width="3.80" height="3.80" fill="#a8062e" rx="0.9"/>
<rect x="149.97" y="593.80" width="3.80" height="3.80" fill="#a8062e" rx="0.9"/>
<rect x="160.60" y="593.40" width="3.80" height="3.80" fill="#a8062e" rx="0.9"/>
<rect x="171.23" y="596.40" width="3.80" height="3.80" fill="#a8062e" rx="0.9"/>
<text x="58.70" y="512.80" font-size="7.6" stroke="#231f20" stroke-width="0.12" textLength="37.40" lengthAdjust="spacingAndGlyphs" >Oligomycin</text>
<text x="101.00" y="512.80" font-size="7.6" stroke="#231f20" stroke-width="0.12" textLength="18.80" lengthAdjust="spacingAndGlyphs" >FCCP</text>
<text x="130.20" y="512.90" font-size="7.6" stroke="#231f20" stroke-width="0.12" textLength="80.60" lengthAdjust="spacingAndGlyphs" >Antimycin A &amp; Rotenone</text>
<line x1="80.40" y1="517.50" x2="80.40" y2="552.70" stroke="#111" stroke-width="1.25" />
<path d="M77.20,550.10 L80.40,556.70 L83.60,550.10 L80.40,551.30 Z" stroke="none" stroke-width="1" fill="#000" />
<line x1="110.10" y1="517.50" x2="110.10" y2="552.90" stroke="#111" stroke-width="1.25" />
<path d="M106.90,550.30 L110.10,556.90 L113.30,550.30 L110.10,551.50 Z" stroke="none" stroke-width="1" fill="#000" />
<line x1="145.20" y1="517.50" x2="145.20" y2="539.90" stroke="#111" stroke-width="1.25" />
<path d="M142.00,537.30 L145.20,543.90 L148.40,537.30 L145.20,538.50 Z" stroke="none" stroke-width="1" fill="#000" />
<text x="96.50" y="633.10" font-size="9.8" stroke="#231f20" stroke-width="0.12" textLength="36.70" lengthAdjust="spacingAndGlyphs" >Time (min)</text>
<text transform="translate(25.9,561.9) rotate(-90)" text-anchor="middle" font-size="10.0" textLength="56" lengthAdjust="spacingAndGlyphs" fill="#231f20">OCR (pmol/min)</text>
<line x1="182.50" y1="542.60" x2="192.30" y2="542.60" stroke="#23427e" stroke-width="1.2" />
<circle cx="187.20" cy="542.60" r="1.70" fill="#23427e" />
<line x1="182.50" y1="553.80" x2="192.30" y2="553.80" stroke="#a8062e" stroke-width="1.2" />
<rect x="185.20" y="551.90" width="4.00" height="3.80" fill="#a8062e" rx="1"/>
<text x="195.00" y="544.90" font-size="6.4" stroke="#231f20" stroke-width="0.04" textLength="40.40" lengthAdjust="spacingAndGlyphs" >ARP-1 CTR-KO</text>
<text x="195.00" y="556.00" font-size="6.4" stroke="#231f20" stroke-width="0.04" textLength="39.50" lengthAdjust="spacingAndGlyphs" >ARP-1 MIF-KO</text>
<text x="266.60" y="502.90" font-size="13.8" fill="#000" font-weight="bold" stroke="#000" stroke-width="0.35">H</text>
<rect x="314.70" y="544.60" width="5.90" height="61.40" fill="#4f2262" />
<line x1="317.65" y1="536.50" x2="317.65" y2="544.60" stroke="#4f2262" stroke-width="0.9" />
<line x1="315.95" y1="536.50" x2="319.35" y2="536.50" stroke="#4f2262" stroke-width="0.9" />
<rect x="325.20" y="558.60" width="5.60" height="47.40" fill="#2a4879" />
<line x1="328.00" y1="552.20" x2="328.00" y2="558.60" stroke="#2a4879" stroke-width="0.9" />
<line x1="326.30" y1="552.20" x2="329.70" y2="552.20" stroke="#2a4879" stroke-width="0.9" />
<rect x="334.90" y="548.70" width="5.90" height="57.30" fill="#c5c3c8" />
<line x1="337.85" y1="543.30" x2="337.85" y2="548.70" stroke="#c5c3c8" stroke-width="0.9" />
<line x1="336.15" y1="543.30" x2="339.55" y2="543.30" stroke="#c5c3c8" stroke-width="0.9" />
<rect x="345.10" y="564.00" width="5.90" height="42.00" fill="#a6042c" />
<line x1="348.05" y1="558.60" x2="348.05" y2="564.00" stroke="#a6042c" stroke-width="0.9" />
<line x1="346.35" y1="558.60" x2="349.75" y2="558.60" stroke="#a6042c" stroke-width="0.9" />
<rect x="362.30" y="528.50" width="5.90" height="77.50" fill="#4f2262" />
<line x1="365.25" y1="521.70" x2="365.25" y2="528.50" stroke="#4f2262" stroke-width="0.9" />
<line x1="363.55" y1="521.70" x2="366.95" y2="521.70" stroke="#4f2262" stroke-width="0.9" />
<rect x="372.50" y="556.20" width="6.00" height="49.80" fill="#2a4879" />
<line x1="375.50" y1="542.70" x2="375.50" y2="556.20" stroke="#2a4879" stroke-width="0.9" />
<line x1="373.80" y1="542.70" x2="377.20" y2="542.70" stroke="#2a4879" stroke-width="0.9" />
<rect x="383.00" y="530.30" width="5.70" height="75.70" fill="#c5c3c8" />
<line x1="385.85" y1="519.00" x2="385.85" y2="530.30" stroke="#c5c3c8" stroke-width="0.9" />
<line x1="384.15" y1="519.00" x2="387.55" y2="519.00" stroke="#c5c3c8" stroke-width="0.9" />
<rect x="393.30" y="558.10" width="5.90" height="47.90" fill="#a6042c" />
<line x1="396.25" y1="552.70" x2="396.25" y2="558.10" stroke="#a6042c" stroke-width="0.9" />
<line x1="394.55" y1="552.70" x2="397.95" y2="552.70" stroke="#a6042c" stroke-width="0.9" />
<rect x="409.60" y="590.90" width="5.90" height="15.10" fill="#4f2262" />
<line x1="412.55" y1="588.50" x2="412.55" y2="590.90" stroke="#4f2262" stroke-width="0.9" />
<line x1="410.85" y1="588.50" x2="414.25" y2="588.50" stroke="#4f2262" stroke-width="0.9" />
<rect x="419.80" y="599.00" width="6.00" height="7.00" fill="#2a4879" />
<line x1="422.80" y1="591.20" x2="422.80" y2="599.00" stroke="#2a4879" stroke-width="0.9" />
<line x1="421.10" y1="591.20" x2="424.50" y2="591.20" stroke="#2a4879" stroke-width="0.9" />
<rect x="430.30" y="588.50" width="5.70" height="17.50" fill="#c5c3c8" />
<line x1="433.15" y1="579.60" x2="433.15" y2="588.50" stroke="#c5c3c8" stroke-width="0.9" />
<line x1="431.45" y1="579.60" x2="434.85" y2="579.60" stroke="#c5c3c8" stroke-width="0.9" />
<rect x="440.30" y="601.20" width="5.90" height="4.80" fill="#a6042c" />
<line x1="443.25" y1="599.00" x2="443.25" y2="601.20" stroke="#a6042c" stroke-width="0.9" />
<line x1="441.55" y1="599.00" x2="444.95" y2="599.00" stroke="#a6042c" stroke-width="0.9" />
<line x1="309.40" y1="510.80" x2="309.40" y2="606.60" stroke="#222" stroke-width="1.3" />
<line x1="308.80" y1="606.00" x2="449.60" y2="606.00" stroke="#222" stroke-width="1.3" />
<line x1="306.20" y1="606.00" x2="309.40" y2="606.00" stroke="#222" stroke-width="0.9" />
<text x="302.90" y="608.60" font-size="7.5" text-anchor="end" stroke="#231f20" stroke-width="0.12" >0</text>
<line x1="306.20" y1="589.00" x2="309.40" y2="589.00" stroke="#222" stroke-width="0.9" />
<text x="302.90" y="591.60" font-size="7.5" text-anchor="end" stroke="#231f20" stroke-width="0.12" >50</text>
<line x1="306.20" y1="572.00" x2="309.40" y2="572.00" stroke="#222" stroke-width="0.9" />
<text x="302.90" y="574.60" font-size="7.5" text-anchor="end" stroke="#231f20" stroke-width="0.12" >100</text>
<line x1="306.20" y1="555.00" x2="309.40" y2="555.00" stroke="#222" stroke-width="0.9" />
<text x="302.90" y="557.60" font-size="7.5" text-anchor="end" stroke="#231f20" stroke-width="0.12" >150</text>
<line x1="306.20" y1="538.00" x2="309.40" y2="538.00" stroke="#222" stroke-width="0.9" />
<text x="302.90" y="540.60" font-size="7.5" text-anchor="end" stroke="#231f20" stroke-width="0.12" >200</text>
<line x1="306.20" y1="521.00" x2="309.40" y2="521.00" stroke="#222" stroke-width="0.9" />
<text x="302.90" y="523.60" font-size="7.5" text-anchor="end" stroke="#231f20" stroke-width="0.12" >250</text>
<line x1="332.50" y1="606.00" x2="332.50" y2="608.80" stroke="#222" stroke-width="0.9" />
<line x1="380.40" y1="606.00" x2="380.40" y2="608.80" stroke="#222" stroke-width="0.9" />
<line x1="428.00" y1="606.00" x2="428.00" y2="608.80" stroke="#222" stroke-width="0.9" />
<text x="324.60" y="619.40" font-size="8.0" stroke="#231f20" stroke-width="0.12" textLength="16.20" lengthAdjust="spacingAndGlyphs" >Basal</text>
<text x="367.20" y="619.40" font-size="8.0" stroke="#231f20" stroke-width="0.12" textLength="26.60" lengthAdjust="spacingAndGlyphs" >Maximal</text>
<text x="418.50" y="619.40" font-size="8.0" stroke="#231f20" stroke-width="0.12" textLength="18.60" lengthAdjust="spacingAndGlyphs" >Spare</text>
<text transform="translate(284.0,562.0) rotate(-90)" text-anchor="middle" font-size="10.0" textLength="56.5" lengthAdjust="spacingAndGlyphs" fill="#231f20">OCR (pmol/min)</text>
<line x1="315.20" y1="532.50" x2="330.50" y2="532.50" stroke="#222" stroke-width="1.1" />
<text x="322.80" y="532.10" font-size="6.0" text-anchor="middle" stroke="#231f20" stroke-width="0.04" >*</text>
<line x1="335.90" y1="538.40" x2="351.00" y2="538.40" stroke="#222" stroke-width="1.1" />
<text x="343.50" y="538.00" font-size="6.0" text-anchor="middle" stroke="#231f20" stroke-width="0.04" >*</text>
<line x1="363.70" y1="515.00" x2="378.50" y2="515.00" stroke="#222" stroke-width="1.1" />
<text x="371.10" y="514.60" font-size="6.0" text-anchor="middle" stroke="#231f20" stroke-width="0.04" >*</text>
<line x1="384.70" y1="511.50" x2="399.50" y2="511.50" stroke="#222" stroke-width="1.1" />
<text x="392.10" y="511.10" font-size="6.0" text-anchor="middle" stroke="#231f20" stroke-width="0.04" >*</text>
<line x1="432.00" y1="573.70" x2="446.50" y2="573.70" stroke="#222" stroke-width="1.1" />
<text x="439.20" y="573.30" font-size="6.0" text-anchor="middle" stroke="#231f20" stroke-width="0.04" >*</text>
<line x1="410.20" y1="582.90" x2="424.40" y2="582.90" stroke="#222" stroke-width="1.1" />
<text x="417.30" y="580.40" font-size="6.2" text-anchor="middle" stroke="#231f20" stroke-width="0.04" textLength="10.00" lengthAdjust="spacingAndGlyphs" >n.s.</text>
<rect x="415.80" y="511.50" width="7.80" height="4.40" fill="#4f2262" />
<text x="427.70" y="515.70" font-size="6.4" stroke="#231f20" stroke-width="0.04" textLength="43.30" lengthAdjust="spacingAndGlyphs" >MM.1S CTR-KO</text>
<rect x="415.80" y="521.38" width="7.80" height="4.40" fill="#2a4879" />
<text x="427.70" y="525.58" font-size="6.4" stroke="#231f20" stroke-width="0.04" textLength="42.00" lengthAdjust="spacingAndGlyphs" >MM.1S MIF-KO</text>
<rect x="415.80" y="531.26" width="7.80" height="4.40" fill="#c5c3c8" />
<text x="427.70" y="535.46" font-size="6.4" stroke="#231f20" stroke-width="0.04" textLength="40.60" lengthAdjust="spacingAndGlyphs" >ARP-1 CTR-KO</text>
<rect x="415.80" y="541.14" width="7.80" height="4.40" fill="#a6042c" />
<text x="427.70" y="545.34" font-size="6.4" stroke="#231f20" stroke-width="0.04" textLength="39.80" lengthAdjust="spacingAndGlyphs" >ARP-1 MIF-KO</text>
</svg>
</body></html>
